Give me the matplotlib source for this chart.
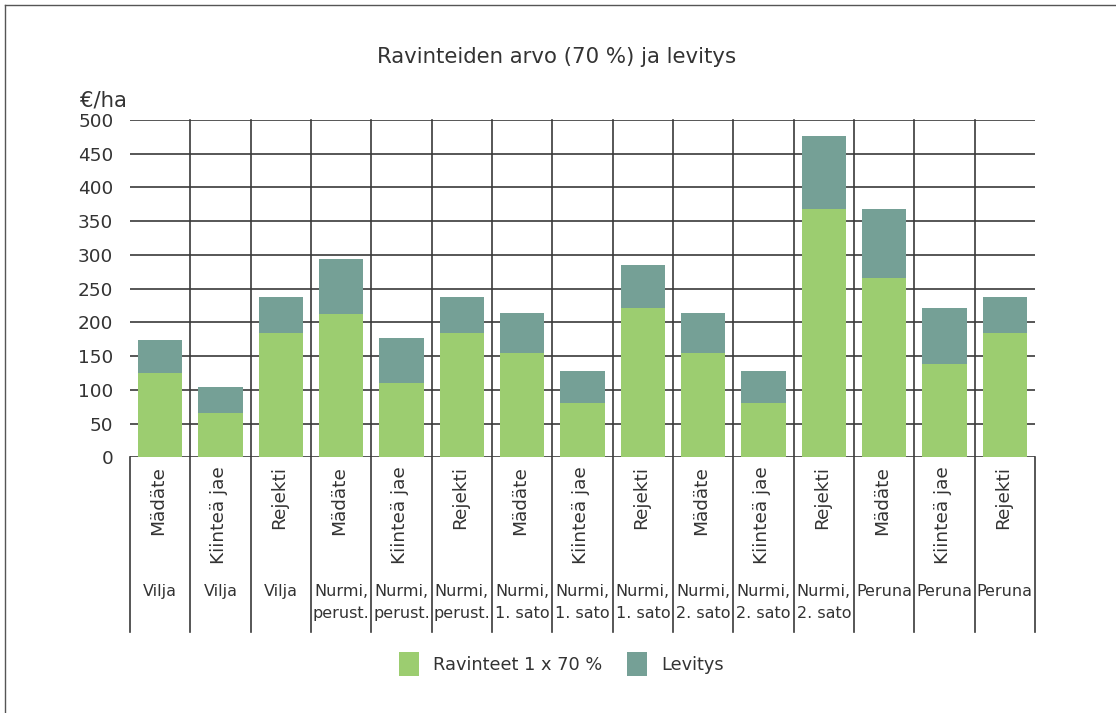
#!/usr/bin/env python

""" Stacked bar chart: nutrient value (70 %) and spreading cost, EUR/ha
"""

import numpy as np
import matplotlib
matplotlib.use("Agg")
import matplotlib.pyplot as plt
from matplotlib.lines import Line2D
from matplotlib.patches import Patch

kinds = ["Mädäte", "Kiinteä jae", "Rejekti"] * 5
groups = (["Vilja"] * 3 + ["Nurmi,\nperust."] * 3 + ["Nurmi,\n1. sato"] * 3
          + ["Nurmi,\n2. sato"] * 3 + ["Peruna"] * 3)
ravinteet = [125, 66, 184, 212, 110, 184, 155, 80, 221, 155, 80, 368, 266, 138, 184]
levitys = [49, 38, 54, 82, 67, 54, 59, 48, 64, 59, 48, 108, 102, 83, 54]
yticks = [0, 50, 100, 150, 200, 250, 300, 350, 400, 450, 500]

green = "#9ccd70"
teal = "#75a096"
txt = "#333333"
grid = "#3a3a3a"

plt.rcParams["font.family"] = ["DejaVu Sans"]

fig = plt.figure(figsize=(11.16, 7.13), dpi=100)
ax = fig.add_axes([130/1116, 1-457.3/713, 905/1116, 337.3/713])

x = np.arange(len(kinds))
ax.bar(x, ravinteet, width=0.73, color=green, zorder=3)
ax.bar(x, levitys, width=0.73, bottom=ravinteet, color=teal, zorder=3)

ax.set_xlim(-0.5, len(kinds) - 0.5)
ax.set_ylim(0, 500)
ax.set_yticks(yticks)
ax.set_yticklabels([str(v) for v in yticks], fontsize=13.3, color=txt)
ax.tick_params(axis="y", length=0, pad=12)
ax.set_xticks([])
for s in ax.spines.values():
    s.set_visible(False)

# horizontal grid
for v in yticks:
    ax.axhline(v, color=grid, lw=1.2, zorder=1)

# vertical grid, down through the label table
low = -(632 - 457.3) / 337.3
for i in range(len(kinds) + 1):
    top = 0 if i in (0, len(kinds)) else 1
    ax.plot([i - 0.5, i - 0.5], [low, top], color=grid, lw=1.2,
            transform=ax.get_xaxis_transform(), clip_on=False, zorder=1)

# category labels
for i in range(len(kinds)):
    ax.text(i - 0.03, -(466 - 457.3) / 337.3, kinds[i], rotation=90,
            ha="center", va="top", fontsize=13.3, color=txt,
            transform=ax.get_xaxis_transform())
    ax.text(i, -(584 - 457.3) / 337.3, groups[i], ha="center", va="top",
            fontsize=11.5, color=txt, linespacing=1.55,
            transform=ax.get_xaxis_transform())

fig.text(0.499, 1 - 57/713, "Ravinteiden arvo (70 %) ja levitys",
         ha="center", va="center", fontsize=15.3, color=txt)
fig.text(80/1116, 1 - 100/713, "€/ha", ha="left", va="center",
         fontsize=15.3, color=txt)

handles = [Patch(facecolor=green), Patch(facecolor=teal)]
fig.legend(handles, ["Ravinteet 1 x 70 %", "Levitys"], loc="center",
           bbox_to_anchor=(0.503, 1 - 664/713), ncol=2, frameon=False,
           fontsize=12.8, handlelength=1.13, handleheight=1.63,
           handletextpad=0.8, columnspacing=1.35, labelcolor=txt)

# outer frame (cut off on the right and bottom)
fig.add_artist(Line2D([5/1116, 1], [1 - 5/713, 1 - 5/713], color="#555555", lw=1))
fig.add_artist(Line2D([5/1116, 5/1116], [0, 1 - 5/713], color="#555555", lw=1))

fig.savefig("out.png", dpi=100)
